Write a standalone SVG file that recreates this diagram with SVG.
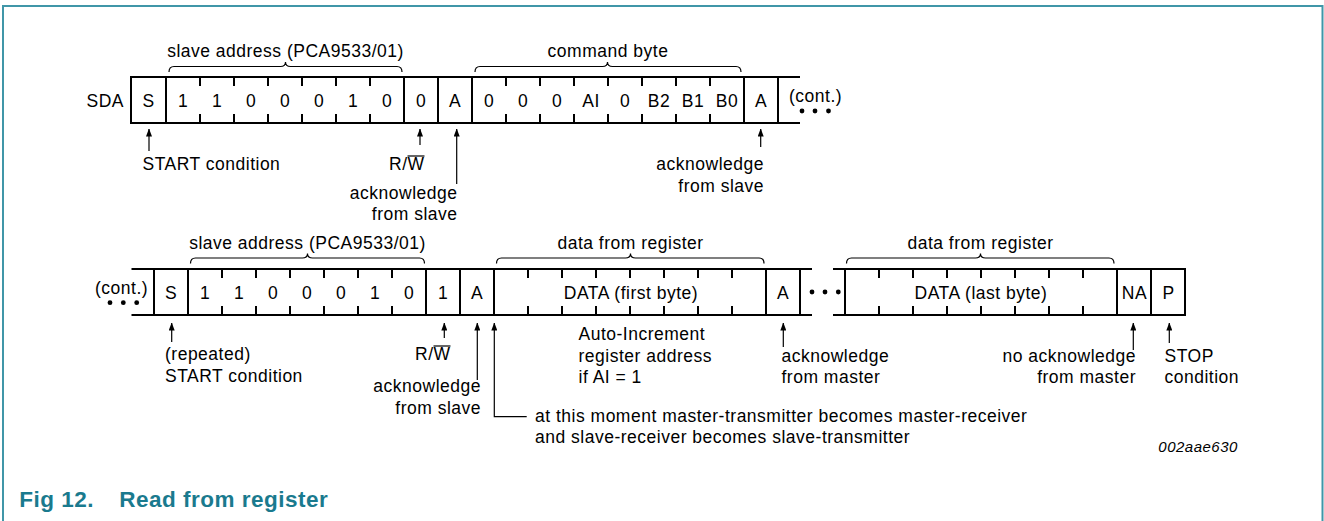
<svg xmlns="http://www.w3.org/2000/svg" width="1324" height="521" viewBox="0 0 1324 521">
<style>
.t{font-family:"Liberation Sans",Arial,Helvetica,sans-serif;font-size:17.5px;letter-spacing:0.5px;fill:#000}
.c{text-anchor:middle}
.e{text-anchor:end}
.bx{fill:none;stroke:#000;stroke-width:2}
.ln{stroke:#000;stroke-width:2;fill:none}
.br{fill:none;stroke:#000;stroke-width:1.2}
.ar{stroke:#000;stroke-width:1.2;fill:none;marker-end:url(#ah)}
.ov{stroke:#000;stroke-width:1.2}
.dot{fill:#000}
</style>
<defs>
<marker id="ah" markerUnits="userSpaceOnUse" markerWidth="8" markerHeight="6" refX="7.5" refY="3" orient="auto">
<path d="M0,0 L8,3 L0,6 Z" fill="#000"/>
</marker>
</defs>
<rect x="0" y="0" width="1324" height="521" fill="#fff"/>
<g id="frame" fill="none" stroke="#4096a8" stroke-width="2">
<path d="M3,521 V6 H1322.5 V521"/>
</g>

<!-- ROW 1 -->
<g id="r1-sda"><text class="t e" x="124" y="106.5">SDA</text></g>
<g id="r1-start"><rect class="bx" x="131" y="77" width="35" height="46"/><text class="t c" x="148.5" y="106.5">S</text></g>
<g id="r1-addr">
<rect class="bx" x="166" y="77" width="238" height="46"/>
<path class="ln" d="M200,77v9M234,77v9M268,77v9M302,77v9M336,77v9M370,77v9M200,123v-9M234,123v-9M268,123v-9M302,123v-9M336,123v-9M370,123v-9"/>
<text class="t c" x="183" y="106.5">1</text><text class="t c" x="217" y="106.5">1</text><text class="t c" x="251" y="106.5">0</text><text class="t c" x="285" y="106.5">0</text><text class="t c" x="319" y="106.5">0</text><text class="t c" x="353" y="106.5">1</text><text class="t c" x="387" y="106.5">0</text>
<path class="br" d="M169,72 q0,-5.5 5,-5.5 H280.5 q5,0 5,-4.5 q0,4.5 5,4.5 H397 q5,0 5,5.5"/>
<text class="t c" x="285.5" y="57">slave address (PCA9533/01)</text>
</g>
<g id="r1-rw"><rect class="bx" x="404" y="77" width="34" height="46"/><text class="t c" x="421" y="106.5">0</text></g>
<g id="r1-ack1"><rect class="bx" x="438" y="77" width="34" height="46"/><text class="t c" x="455" y="106.5">A</text></g>
<g id="r1-cmd">
<rect class="bx" x="472" y="77" width="272" height="46"/>
<path class="ln" d="M506,77v9M540,77v9M574,77v9M608,77v9M642,77v9M676,77v9M710,77v9M506,123v-9M540,123v-9M574,123v-9M608,123v-9M642,123v-9M676,123v-9M710,123v-9"/>
<text class="t c" x="489" y="106.5">0</text><text class="t c" x="523" y="106.5">0</text><text class="t c" x="557" y="106.5">0</text><text class="t c" x="591" y="106.5">AI</text><text class="t c" x="625" y="106.5">0</text><text class="t c" x="659" y="106.5">B2</text><text class="t c" x="693" y="106.5">B1</text><text class="t c" x="727" y="106.5">B0</text>
<path class="br" d="M475,72 q0,-5.5 5,-5.5 H602.5 q5,0 5,-4.5 q0,4.5 5,4.5 H736 q5,0 5,5.5"/>
<text class="t c" x="608" y="57">command byte</text>
</g>
<g id="r1-ack2"><rect class="bx" x="744" y="77" width="34" height="46"/><text class="t c" x="761" y="106.5">A</text></g>
<g id="r1-cont">
<path class="ln" d="M778,77H800M778,123H800"/>
<text class="t" x="789" y="102.4">(cont.)</text>
<circle class="dot" cx="802" cy="111" r="2.4"/><circle class="dot" cx="815" cy="111" r="2.4"/><circle class="dot" cx="828.5" cy="111" r="2.4"/>
</g>

<!-- ROW 1 annotations -->
<g id="r1-lbl-start"><text class="t" x="142.5" y="170">START condition</text></g>
<g id="r1-lbl-rw"><text class="t" x="389" y="170">R/W</text><line class="ov" x1="407.5" y1="156" x2="424.5" y2="156"/></g>
<g id="r1-lbl-ack1"><text class="t e" x="457.5" y="198.5">acknowledge</text><text class="t e" x="457.5" y="220">from slave</text></g>
<g id="r1-lbl-ack2"><text class="t e" x="764" y="170">acknowledge</text><text class="t e" x="764" y="191.5">from slave</text></g>

<!-- ROW 2 -->
<g id="r2-cont">
<path class="ln" d="M131.5,269H154M131.5,315H154"/>
<text class="t" x="95" y="294">(cont.)</text>
<circle class="dot" cx="110" cy="302.7" r="2.4"/><circle class="dot" cx="123.3" cy="302.7" r="2.4"/><circle class="dot" cx="136.7" cy="302.7" r="2.4"/>
</g>
<g id="r2-start"><rect class="bx" x="154" y="269" width="34" height="46"/><text class="t c" x="171" y="298.5">S</text></g>
<g id="r2-addr">
<rect class="bx" x="188" y="269" width="238" height="46"/>
<path class="ln" d="M222,269v9M256,269v9M290,269v9M324,269v9M358,269v9M392,269v9M222,315v-9M256,315v-9M290,315v-9M324,315v-9M358,315v-9M392,315v-9"/>
<text class="t c" x="205" y="298.5">1</text><text class="t c" x="239" y="298.5">1</text><text class="t c" x="273" y="298.5">0</text><text class="t c" x="307" y="298.5">0</text><text class="t c" x="341" y="298.5">0</text><text class="t c" x="375" y="298.5">1</text><text class="t c" x="409" y="298.5">0</text>
<path class="br" d="M190.5,263.5 q0,-5.5 5,-5.5 H302.5 q5,0 5,-4.5 q0,4.5 5,4.5 H419.5 q5,0 5,5.5"/>
<text class="t c" x="307.5" y="249">slave address (PCA9533/01)</text>
</g>
<g id="r2-rw"><rect class="bx" x="426" y="269" width="34" height="46"/><text class="t c" x="443" y="298.5">1</text></g>
<g id="r2-ack1"><rect class="bx" x="460" y="269" width="34" height="46"/><text class="t c" x="477" y="298.5">A</text></g>
<g id="r2-data1">
<rect class="bx" x="494" y="269" width="272" height="46"/>
<path class="ln" d="M528,269v9M562,269v9M596,269v9M630,269v9M664,269v9M698,269v9M732,269v9M528,315v-9M562,315v-9M596,315v-9M630,315v-9M664,315v-9M698,315v-9M732,315v-9"/>
<text class="t c" x="631" y="298.5">DATA (first byte)</text>
<path class="br" d="M496.5,263.5 q0,-5.5 5,-5.5 H625.5 q5,0 5,-4.5 q0,4.5 5,4.5 H759 q5,0 5,5.5"/>
<text class="t c" x="630.5" y="249">data from register</text>
</g>
<g id="r2-ack2"><rect class="bx" x="766" y="269" width="34" height="46"/><text class="t c" x="783" y="298.5">A</text></g>
<g id="r2-gap">
<path class="ln" d="M800,269H812M800,315H812M833,269H845M833,315H845"/>
<circle class="dot" cx="812" cy="292" r="2.4"/><circle class="dot" cx="825" cy="292" r="2.4"/><circle class="dot" cx="838.3" cy="292" r="2.4"/>
</g>
<g id="r2-data2">
<rect class="bx" x="845" y="269" width="272" height="46"/>
<path class="ln" d="M879,269v9M913,269v9M947,269v9M981,269v9M1015,269v9M1049,269v9M1083,269v9M879,315v-9M913,315v-9M947,315v-9M981,315v-9M1015,315v-9M1049,315v-9M1083,315v-9"/>
<text class="t c" x="981" y="298.5">DATA (last byte)</text>
<path class="br" d="M846.5,263.5 q0,-5.5 5,-5.5 H975.5 q5,0 5,-4.5 q0,4.5 5,4.5 H1109 q5,0 5,5.5"/>
<text class="t c" x="980.5" y="249">data from register</text>
</g>
<g id="r2-nack"><rect class="bx" x="1117" y="269" width="34" height="46"/><text class="t c" x="1134.5" y="298.5">NA</text></g>
<g id="r2-stop"><rect class="bx" x="1151" y="269" width="34" height="46"/><text class="t c" x="1168.5" y="298.5">P</text></g>

<!-- ROW 2 annotations -->
<g id="r2-lbl-start"><text class="t" x="165" y="360">(repeated)</text><text class="t" x="165" y="381.5">START condition</text></g>
<g id="r2-lbl-rw"><text class="t" x="415" y="360">R/W</text><line class="ov" x1="433.5" y1="346" x2="450.5" y2="346"/></g>
<g id="r2-lbl-ack1"><text class="t e" x="481" y="392">acknowledge</text><text class="t e" x="481" y="413.5">from slave</text></g>
<g id="r2-lbl-autoinc"><text class="t" x="578.5" y="340">Auto-Increment</text><text class="t" x="578.5" y="361.5">register address</text><text class="t" x="578.5" y="383">if AI = 1</text></g>
<g id="r2-lbl-ack2"><text class="t" x="781.5" y="361.5">acknowledge</text><text class="t" x="781.5" y="383">from master</text></g>
<g id="r2-lbl-nack"><text class="t e" x="1136" y="361.5">no acknowledge</text><text class="t e" x="1136" y="383">from master</text></g>
<g id="r2-lbl-stop"><text class="t" x="1164.5" y="361.5">STOP</text><text class="t" x="1164.5" y="383">condition</text></g>
<g id="r2-lbl-moment"><text class="t" x="535" y="421.5">at this moment master-transmitter becomes master-receiver</text><text class="t" x="535" y="443">and slave-receiver becomes slave-transmitter</text></g>

<g id="connectors">
<path class="ar" d="M149,151V129"/>
<path class="ar" d="M420,145V129"/>
<path class="ar" d="M456.7,184V129"/>
<path class="ar" d="M760.7,147V129"/>
<path class="ar" d="M171.7,342V323"/>
<path class="ar" d="M444.3,338V323"/>
<path class="ar" d="M477.3,380V323"/>
<path class="ar" d="M526.7,416.7H494.3V323"/>
<path class="ar" d="M783.3,347V323"/>
<path class="ar" d="M1133.3,350V323"/>
<path class="ar" d="M1169.3,343V323"/>
</g>

<g id="figid"><text x="1158.3" y="452" style="font-family:'Liberation Sans',Arial,sans-serif;font-size:15px;font-style:italic;letter-spacing:0.5px;fill:#000">002aae630</text></g>
<g id="caption"><text y="507" style="font-family:'Liberation Sans',Arial,sans-serif;font-size:22.5px;font-weight:bold;letter-spacing:0.5px;fill:#1a7a8e"><tspan x="19.3">Fig 12.</tspan><tspan x="119.3">Read from register</tspan></text></g>
</svg>
